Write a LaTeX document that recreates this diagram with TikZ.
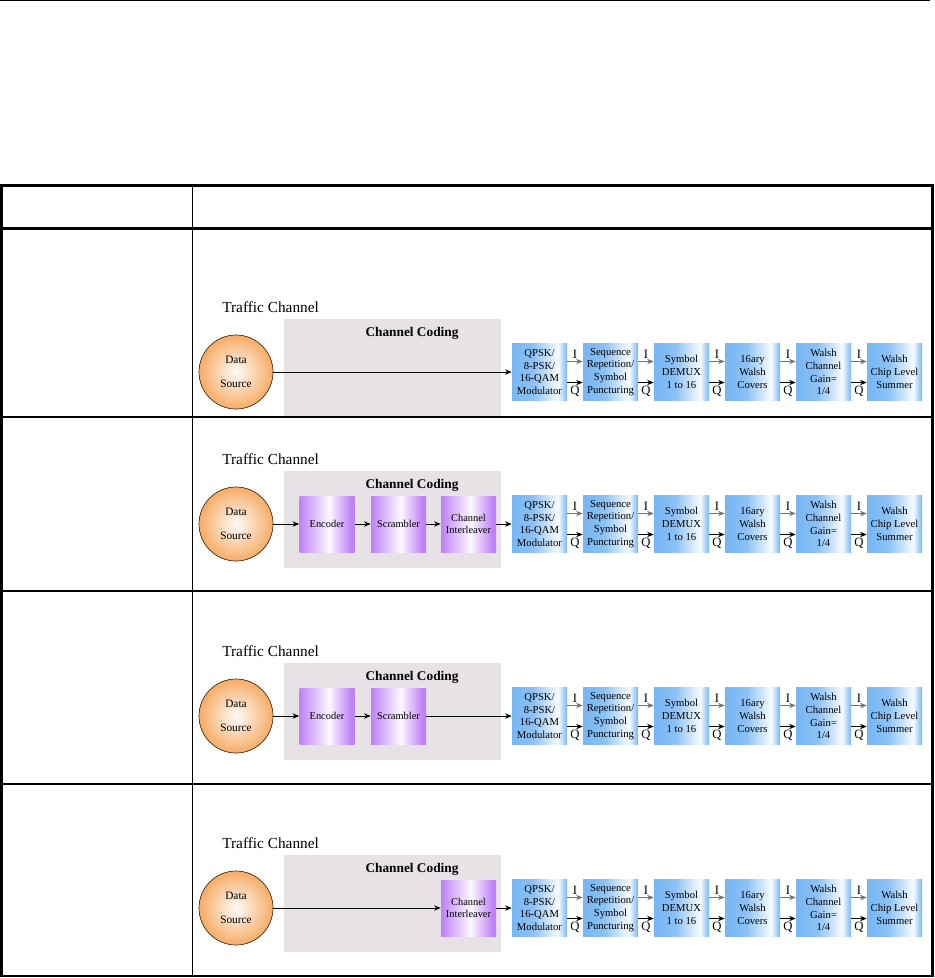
\documentclass[tikz,border=0pt]{standalone}
\usepackage{fontspec}
\setmainfont{Liberation Serif}
\usetikzlibrary{arrows.meta}

\definecolor{codegray}{RGB}{231,226,229}
\definecolor{modblue}{RGB}{118,182,243}
\definecolor{encpurple}{RGB}{190,128,247}
\definecolor{srcorange}{RGB}{246,172,102}

\pgfdeclarehorizontalshading{modshade}{100bp}{color(0bp)=(modblue); color(25bp)=(modblue);
  color(44bp)=(modblue!85!white); color(67bp)=(white!95!modblue); color(75bp)=(modblue); color(100bp)=(modblue)}
\pgfdeclarehorizontalshading{encshade}{100bp}{color(0bp)=(encpurple); color(25bp)=(encpurple);
  color(52bp)=(white!95!encpurple); color(72bp)=(encpurple); color(100bp)=(encpurple)}

\tikzset{
  modbox/.style={rectangle, shading=modshade, minimum width=41.25pt, minimum height=42.75pt,
    inner sep=0.5pt, align=center, font=\fontsize{8}{9.6}\selectfont},
  codebox/.style={rectangle, shading=encshade, minimum width=41.25pt, minimum height=42pt,
    inner sep=0.5pt, align=center, font=\fontsize{7.8}{9.2}\selectfont},
  srcnode/.style={circle, draw=black!70!brown, line width=0.5pt, inner color=white!96!srcorange,
    outer color=srcorange, minimum size=55.5pt, inner sep=0pt, align=center, font=\fontsize{8.5}{10}\selectfont},
  flow/.style={-{Stealth[length=5pt,width=4pt]}, line width=0.7pt},
  iflow/.style={flow, draw=black!55},
  iq/.style={font=\fontsize{9.5}{11}\selectfont, inner sep=1pt}
}

\begin{document}
\begin{tikzpicture}[x=0.75pt, y=-0.75pt]
  \useasboundingbox (0,0) rectangle (935,978);
  % page rule and table
  \draw[line width=0.75pt] (0,0.5) -- (930,0.5);
  \draw[line width=2.25pt] (0,185) -- (934,185);
  \draw[line width=2.25pt] (1.5,184) -- (1.5,977);
  \draw[line width=2.25pt] (932.5,184) -- (932.5,977);
  \draw[line width=1.9pt] (0,228.5) -- (934,228.5);
  \foreach \ry in {417,591,784,976}
    \draw[line width=1.5pt] (0,\ry) -- (934,\ry);
  \draw[line width=0.75pt] (192,185) -- (192,976);

  \foreach \r/\cy in {1/372, 2/524, 3/716, 4/908} {
    \node[anchor=west, inner sep=0pt, font=\fontsize{11.5}{13}\selectfont] (tc\r) at (222,\cy-65) {Traffic Channel};
    \fill[codegray] (284,\cy-53) rectangle (501,\cy+44);
    \node[font=\bfseries\fontsize{10}{12}\selectfont] (cc\r) at (412,\cy-39) {Channel Coding};
    \node[srcnode] (src\r) at (236,\cy) {Data\\[8.5pt]Source};
    \node[modbox] (m\r1) at (539.5,\cy) {QPSK/\\8-PSK/\\16-QAM\\Modulator};
    \node[modbox] (m\r2) at (610.5,\cy) {Sequence\\Repetition/\\Symbol\\Puncturing};
    \node[modbox] (m\r3) at (681.5,\cy) {Symbol\\DEMUX\\1 to 16};
    \node[modbox] (m\r4) at (752.5,\cy) {16ary\\Walsh\\Covers};
    \node[modbox] (m\r5) at (823.5,\cy) {Walsh\\Channel\\Gain=\\1/4};
    \node[modbox] (m\r6) at (894.5,\cy) {Walsh\\Chip Level\\Summer};
    \foreach \a/\b in {1/2,2/3,3/4,4/5,5/6} {
      \draw[iflow] ([yshift=7.9pt]m\r\a.east) -- node[iq, above=1pt] (i\r\a) {I} ([yshift=7.9pt]m\r\b.west);
      \draw[flow] ([yshift=-7.9pt]m\r\a.east) -- node[iq, below=1pt] (q\r\a) {Q} ([yshift=-7.9pt]m\r\b.west);
    }
  }

  % row 1: no coding
  \draw[flow] (src1) -- (m11);
  % row 2: encoder, scrambler, interleaver
  \node[codebox] (enc2) at (327,524) {Encoder};
  \node[codebox] (scr2) at (398.5,524) {Scrambler};
  \node[codebox] (int2) at (468.5,524) {Channel\\Interleaver};
  \draw[flow] (src2) -- (enc2);
  \draw[flow] (enc2) -- (scr2);
  \draw[flow] (scr2) -- (int2);
  \draw[flow] (int2) -- (m21);
  % row 3: encoder, scrambler
  \node[codebox] (enc3) at (327,716) {Encoder};
  \node[codebox] (scr3) at (398.5,716) {Scrambler};
  \draw[flow] (src3) -- (enc3);
  \draw[flow] (enc3) -- (scr3);
  \draw[flow] (scr3) -- (m31);
  % row 4: interleaver only
  \node[codebox] (int4) at (468.5,908) {Channel\\Interleaver};
  \draw[flow] (src4) -- (int4);
  \draw[flow] (int4) -- (m41);
\end{tikzpicture}
\end{document}
